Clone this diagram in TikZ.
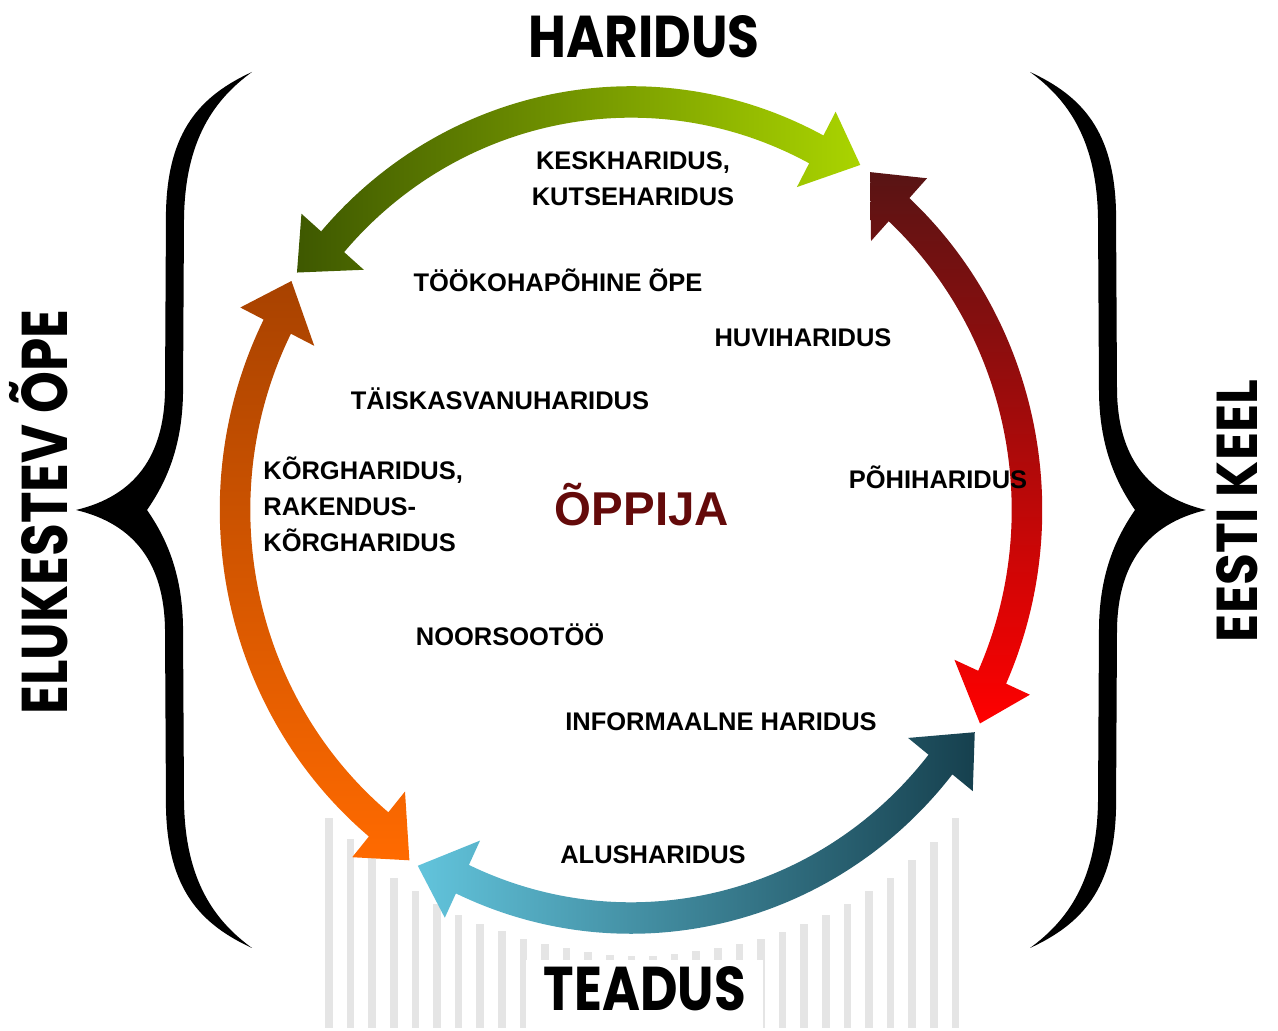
\documentclass[tikz,border=0pt]{standalone}
\usepackage{fontspec}
\setmainfont{Liberation Sans}
\newfontfamily\titlefont{Poppins}

\definecolor{gdark}{RGB}{62,88,0}
\definecolor{glight}{RGB}{170,212,0}
\definecolor{rdark}{RGB}{88,20,20}
\definecolor{rlight}{RGB}{255,0,0}
\definecolor{tdark}{RGB}{22,64,78}
\definecolor{tlight}{RGB}{98,196,220}
\definecolor{odark}{RGB}{168,66,0}
\definecolor{olight}{RGB}{255,106,0}
\definecolor{barfill}{RGB}{229,229,229}
\definecolor{learner}{RGB}{100,10,10}

% one curly brace, opening to the right
\newcommand{\curlybrace}{(252,959) .. controls (200,935) and (168,900) .. (166,820) -- (165,640)
    .. controls (164,575) and (135,535) .. (76,521) .. controls (135,507) and (164,467) .. (165,402)
    -- (166,222) .. controls (168,142) and (200,107) .. (252,83) .. controls (215,110) and (185,150) .. (184,230)
    -- (183,405) .. controls (182,460) and (165,495) .. (147,521) .. controls (165,547) and (182,582) .. (183,637)
    -- (184,812) .. controls (185,892) and (215,932) .. (252,959) -- cycle}

\begin{document}
\begin{tikzpicture}[x=0.2mm, y=0.2mm,
        bar/.style={fill=barfill},
        edu/.style={font=\fontsize{14.5}{20.5}\selectfont\bfseries, align=center, inner sep=0pt},
        heading/.style={font=\titlefont\bfseries, inner sep=0pt},
        greenshade/.style={left color=gdark, right color=glight},
        orangeshade/.style={top color=odark, bottom color=olight},
        tealshade/.style={left color=tlight, right color=tdark},
        redshade/.style={top color=rdark, bottom color=rlight}
    ]
    \useasboundingbox (0,0) rectangle (1278,1031);
    \coordinate (C) at (631,521);

    % research bars
    \foreach \h [count=\i from 0] in {210,189,170,150,137,124,113,104,97,89,84,80,76,73,72,
                                      72,74,77,80,84,89,96,104,113,124,137,150,168,186,210}
        \fill[bar] ({325.15+21.6*\i},3) rectangle ++(7.7,\h);
    \fill[white] (526,0) rectangle (763,71);
    \node[heading] (teadus) at (645,42) {\resizebox{40.4mm}{8.8mm}{TEADUS}};

    % cycle arrows
    \begin{scope}[shift={(C)}, xscale=0.985, yscale=1.015]
        \foreach \a/\b/\col in {55.6/145.4/greenshade, 146.8/236.9/orangeshade,
                                238.3/327.9/tealshade, 329.3/413.9/redshade}
            \shade[\col] (\a:412) -- ({\a+6.5}:444) -- ({\a+6.5}:417.5)
                arc[start angle={\a+6.5}, end angle={\b-6.5}, radius=417.5]
                -- ({\b-6.5}:444) -- (\b:412) -- ({\b-6.5}:360) -- ({\b-6.5}:386.5)
                arc[start angle={\b-6.5}, end angle={\a+6.5}, radius=386.5]
                -- ({\a+6.5}:360) -- cycle;
    \end{scope}

    % braces
    \fill \curlybrace;
    \begin{scope}[shift={(1282,0)}, xscale=-1]
        \fill \curlybrace;
    \end{scope}

    \node[heading] (haridus) at (644,994) {\resizebox{46.2mm}{8.4mm}{HARIDUS}};
    \node[heading, rotate=90] (elukestev) at (45,519) {\resizebox{81mm}{9.2mm}{ELUKESTEV \smash{Õ}PE}};
    \node[heading, rotate=90] (eesti) at (1237,520) {\resizebox{52.4mm}{8.2mm}{EESTI KEEL}};

    \node[edu, font=\fontsize{27}{31}\selectfont\bfseries, text=learner] (oppija) at (642,526) {ÕPPIJA};
    \node[edu] (kesk) at (633,852) {KESKHARIDUS,\\KUTSEHARIDUS};
    \node[edu] (tookoha) at (558,751) {TÖÖKOHAPÕHINE ÕPE};
    \node[edu] (huvi) at (803,693) {HUVIHARIDUS};
    \node[edu] (taiskasv) at (500,632) {TÄISKASVANUHARIDUS};
    \node[edu, align=left, anchor=west] (korg) at (263,527) {KÕRGHARIDUS,\\RAKENDUS-\\KÕRGHARIDUS};
    \node[edu] (pohi) at (938,554) {PÕHIHARIDUS};
    \node[edu] (noorso) at (510,396) {NOORSOOTÖÖ};
    \node[edu] (inform) at (721,309) {INFORMAALNE HARIDUS};
    \node[edu] (alus) at (653,176) {ALUSHARIDUS};
\end{tikzpicture}
\end{document}
